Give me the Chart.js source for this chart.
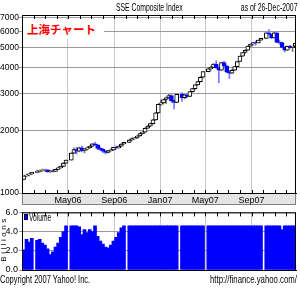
<!DOCTYPE html>
<html>
<head>
<meta charset="utf-8">
<script src="https://cdn.jsdelivr.net/npm/chart.js@4.4.0/dist/chart.umd.min.js"></script>
<style>
  body { margin: 0; background: #fff; width: 300px; height: 288px; position: relative; overflow: hidden;
         font-family: 'Liberation Sans', Arial, sans-serif; }
  #pricebox { position: absolute; left: 0; top: 0; width: 300px; height: 206px; }
  #volbox { position: absolute; left: 0; top: 206px; width: 300px; height: 82px; }
  .txt { position: absolute; font-size: 11px; line-height: 11px; white-space: nowrap; color: #000; }
  .left { transform-origin: left top; }
  .right { transform-origin: right top; }
  #jp { position: absolute; left: 23px; top: 20px; width: 81px; height: 19px; background: #fff; white-space: nowrap;
        color: #ff0000; font: bold 11.5px 'Noto Sans CJK JP', sans-serif; line-height: 19px; padding-left: 4px; box-sizing: border-box; }
  #billions { position: absolute; left: -21px; top: 235px; width: 50px; text-align: center; font-size: 8px; line-height: 8px;
              letter-spacing: 2.5px; transform: rotate(-90deg); white-space: nowrap; }
  #volkey { position: absolute; left: 24px; top: 214px; width: 4px; height: 6px; background: #0000ff; border: 1px solid #000060; box-sizing: border-box; }
</style>
</head>
<body>
<div id="pricebox"><canvas id="price" width="300" height="206"></canvas></div>
<div id="volbox"><canvas id="vol" width="300" height="82"></canvas></div>
<div class="txt left" data-w="67" style="left:116px; top:2px;">SSE Composite Index</div>
<div class="txt right" data-w="57" style="right:3px; top:2px;">as of 26-Dec-2007</div>
<div id="jp">上海チャート</div>
<div id="billions">Billions</div>
<div id="volkey"></div>
<div class="txt left" data-w="22" style="left:29px; top:212px; font-size:10px;">Volume</div>
<div class="txt left" data-w="90" style="left:0px; top:274px;">Copyright 2007 Yahoo! Inc.</div>
<div class="txt right" data-w="87" style="right:3px; top:274px;">http://finance.yahoo.com/</div>
<script>
// weekly candles, first week = 2 Jan 2006 (null = market closed)
var openP = [1163,1209,1221,1236,null,1258,1270,1284,1289,1293,1266,1280,1272,1299,1323,1344,1394,null,1440,1555,
  1620,1592,1652,1602,1628,1652,1680,1724,1706,1640,1622,1590,1568,1600,1612,1658,1648,1680,1722,null,
  1752,1800,1830,1842,1882,1932,1966,2050,2099,2160,2250,2430,2675,2715,2820,2870,2950,2786,2730,null,
  2990,2880,2970,2920,3080,3183,3320,3440,3610,null,3841,3965,4030,4180,4000,3900,4250,4090,3820,3780,
  3900,4060,4300,4560,4750,4870,5100,5218,5300,5290,5450,null,5552,5913,5818,5589,5914,5316,5310,5032,
  4871,5091,5008,5101];
var highP = [1210,1232,1242,1262,null,1288,1292,1306,1302,1298,1286,1292,1302,1332,1352,1402,1445,null,1562,1652,
  1660,1662,1683,1640,1662,1690,1732,1757,1715,1668,1640,1602,1606,1626,1664,1682,1690,1732,1760,null,
  1812,1842,1852,1892,1942,1976,2062,2112,2172,2262,2442,2682,2800,2832,2900,2990,2980,2800,3000,null,
  3049,2990,3010,3092,3192,3330,3452,3642,3852,null,3992,4082,4202,4335,4060,4260,4312,4140,3900,3950,
  4070,4310,4570,4760,4900,5110,5230,5320,5400,5460,5560,null,5920,6124,5830,5960,5920,5450,5330,5050,
  5110,5140,5110,5280];
var lowP = [1156,1198,1208,1228,null,1250,1258,1272,1270,1258,1252,1265,1268,1294,1314,1338,1388,null,1440,1548,
  1540,1578,1576,1562,1610,1640,1668,1698,1618,1600,1568,1540,1560,1588,1604,1628,1642,1672,1714,null,
  1748,1788,1818,1830,1874,1918,1958,2038,2088,2148,2238,2418,2640,2680,2700,2850,2740,2540,2720,null,
  2760,2840,2890,2910,3060,3150,3300,3420,3580,null,3830,3900,4020,3990,3404,3890,4080,3800,3563,3760,
  3880,4050,4290,4540,4700,4860,5080,5150,5150,5280,5440,null,5540,5800,5540,5580,5300,5200,5000,4780,
  4860,4980,4800,5090];
var closeP = [1209,1221,1236,1258,null,1270,1284,1289,1293,1266,1280,1272,1299,1323,1344,1394,1440,null,1555,1620,
  1592,1652,1602,1628,1652,1680,1724,1706,1640,1622,1590,1568,1600,1612,1658,1648,1680,1722,1752,null,
  1800,1830,1842,1882,1932,1966,2050,2099,2160,2250,2430,2675,2715,2820,2870,2950,2786,2730,2990,null,
  2880,2970,2920,3080,3183,3320,3440,3610,3841,null,3965,4030,4180,4000,3900,4250,4090,3820,3780,3900,
  4060,4300,4560,4750,4870,5100,5218,5300,5290,5450,5552,null,5913,5818,5589,5914,5316,5310,5032,4871,
  5091,5008,5101,5262];
// weekly volume, billions (chart clips near 4.6)
var volume = [2.1,3.2,2.9,3.3,null,3.1,3.2,2.8,2.6,2.2,1.6,1.9,2.4,2.8,3.4,4.0,4.6,null,4.6,4.6,
  4.6,4.5,3.7,4.2,3.9,4.2,4.0,4.6,3.5,3.0,2.7,2.4,2.3,2.6,3.0,3.4,3.9,4.4,4.6,null,
  4.6,4.6,4.6,4.6,4.6,4.6,4.6,4.6,4.6,4.6,4.6,4.6,4.6,4.6,4.6,4.6,4.6,4.6,4.6,null,
  4.6,4.6,4.6,4.6,4.6,4.6,4.6,4.6,4.6,null,4.6,4.6,4.6,4.6,4.6,4.6,4.6,4.6,4.6,4.6,
  4.6,4.6,4.6,4.6,4.6,4.6,4.6,4.6,4.6,4.6,4.6,null,4.6,4.6,4.6,4.6,4.6,4.6,4.2,4.6,
  4.6,4.6,4.6,4.6];

var tickDates = ['2006-05-01','2006-09-01','2007-01-01','2007-05-01','2007-09-01'];
var tickLabels = ['May06','Sep06','Jan07','May07','Sep07'];
var priceTicks = [1000,2000,3000,4000,5000,6000,7000];
var volTicks = [0,2,4,6];

var FONT = "'Liberation Sans',Arial,sans-serif";
var BLUE = '#0000ff';
var T0 = Date.UTC(2006, 0, 1);
function dayOf(s) { return (Date.parse(s) - T0) / 864e5; }
var firstWed = dayOf('2006-01-04');
var tickDays = tickDates.map(dayOf);

// squeeze the html labels to the narrow width of the original font
document.querySelectorAll('.txt').forEach(function (el) {
  el.style.transform = 'scaleX(' + (el.dataset.w / el.offsetWidth) + ')';
});

var bodies = [], wicks = [], vols = [];
openP.forEach(function (o, i) {
  var x = firstWed + 7 * i;
  if (o !== null) {
    var up = closeP[i] >= o;
    bodies.push({ x: x, y: [o, closeP[i]], up: up });
    wicks.push({ x: x, y: [lowP[i], highP[i]], up: up });
  }
  if (volume[i] !== null) vols.push({ x: x, y: volume[i] });
});

// gray label band, plot frame and small month ticks
var frame = {
  id: 'frame',
  beforeDraw: function (chart) {
    var ctx = chart.ctx, a = chart.chartArea;
    if (chart.canvas.id === 'price') {
      ctx.save();
      ctx.fillStyle = '#e4e4e4';
      ctx.fillRect(a.left, a.bottom, a.right - a.left, chart.height - a.bottom - 1);
      ctx.strokeStyle = '#808080';
      ctx.strokeRect(a.left + 0.5, a.bottom + 0.5, a.right - a.left - 1, chart.height - a.bottom - 2);
      ctx.restore();
    }
  },
  afterDatasetsDraw: function (chart) {
    var ctx = chart.ctx, a = chart.chartArea, xs = chart.scales.x;
    ctx.save();
    ctx.strokeStyle = '#000';
    ctx.lineWidth = 1;
    ctx.beginPath();
    for (var y = 2006; y <= 2007; y++) {
      for (var m = 0; m < 12; m++) {
        if (y === 2006 && m === 0) continue;
        var px = Math.round(xs.getPixelForValue((Date.UTC(y, m, 1) - T0) / 864e5)) + 0.5;
        ctx.moveTo(px, a.top); ctx.lineTo(px, a.top + 4);
        if (chart.canvas.id === 'price') { ctx.moveTo(px, a.bottom); ctx.lineTo(px, a.bottom - 3); }
      }
    }
    ctx.stroke();
    ctx.strokeRect(a.left + 0.5, a.top + 0.5, a.right - a.left - 1, a.bottom - a.top);
    ctx.restore();
  }
};

function xAxis(showLabels) {
  return {
    type: 'linear', min: -2, max: 726, offset: false,
    afterBuildTicks: function (s) { s.ticks = tickDays.map(function (v) { return { value: v }; }); },
    afterFit: function (s) { s.height = showLabels ? 13 : 0; },
    ticks: { display: showLabels, autoSkip: false, maxRotation: 0, padding: 2, color: '#000',
             font: { family: FONT, size: 9 },
             callback: function (v, i) { return tickLabels[i]; } },
    grid: { color: '#c8c8c8', tickLength: 0, offset: false },
    border: { color: '#000' }
  };
}

new Chart(document.getElementById('price'), {
  type: 'bar',
  data: {
    datasets: [
      {
        label: 'body', data: bodies, order: 1, grouped: false, barThickness: 4, borderWidth: 1, borderSkipped: false,
        backgroundColor: function (c) { return c.raw && c.raw.up ? '#ffffff' : BLUE; },
        borderColor: function (c) { return c.raw && c.raw.up ? '#000000' : BLUE; }
      },
      {
        label: 'wick', data: wicks, order: 2, grouped: false, barThickness: 1,
        backgroundColor: function (c) { return c.raw && c.raw.up ? '#777777' : '#7878ff'; }
      }
    ]
  },
  options: {
    responsive: false, animation: false,
    layout: { padding: { top: 15, right: 4, left: 0, bottom: 0 } },
    plugins: { legend: { display: false }, tooltip: { enabled: false } },
    scales: {
      x: xAxis(true),
      y: {
        type: 'logarithmic', min: 1000, max: 7200,
        afterBuildTicks: function (s) { s.ticks = priceTicks.map(function (v) { return { value: v }; }); },
        afterFit: function (s) { s.width = 22; },
        ticks: { padding: 0, color: '#000', font: { family: FONT, size: 8.5 },
                 callback: function (v) { return String(v); } },
        grid: { color: '#9a9a9a', tickLength: 3 },
        border: { color: '#000' }
      }
    }
  },
  plugins: [frame]
});

new Chart(document.getElementById('vol'), {
  type: 'bar',
  data: {
    datasets: [{ label: 'Volume', data: vols, backgroundColor: BLUE, borderWidth: 0, barThickness: 3 }]
  },
  options: {
    responsive: false, animation: false,
    layout: { padding: { top: 3, right: 4, left: 0, bottom: 18 } },
    plugins: { legend: { display: false }, tooltip: { enabled: false } },
    scales: {
      x: xAxis(false),
      y: {
        min: 0, max: 6,
        afterBuildTicks: function (s) { s.ticks = volTicks.map(function (v) { return { value: v }; }); },
        afterFit: function (s) { s.width = 22; },
        ticks: { padding: 1, color: '#000', font: { family: FONT, size: 9 },
                 callback: function (v) { return v.toFixed(1); } },
        grid: { color: '#9a9a9a', tickLength: 3 },
        border: { color: '#000' }
      }
    }
  },
  plugins: [frame]
});
</script>
</body>
</html>
